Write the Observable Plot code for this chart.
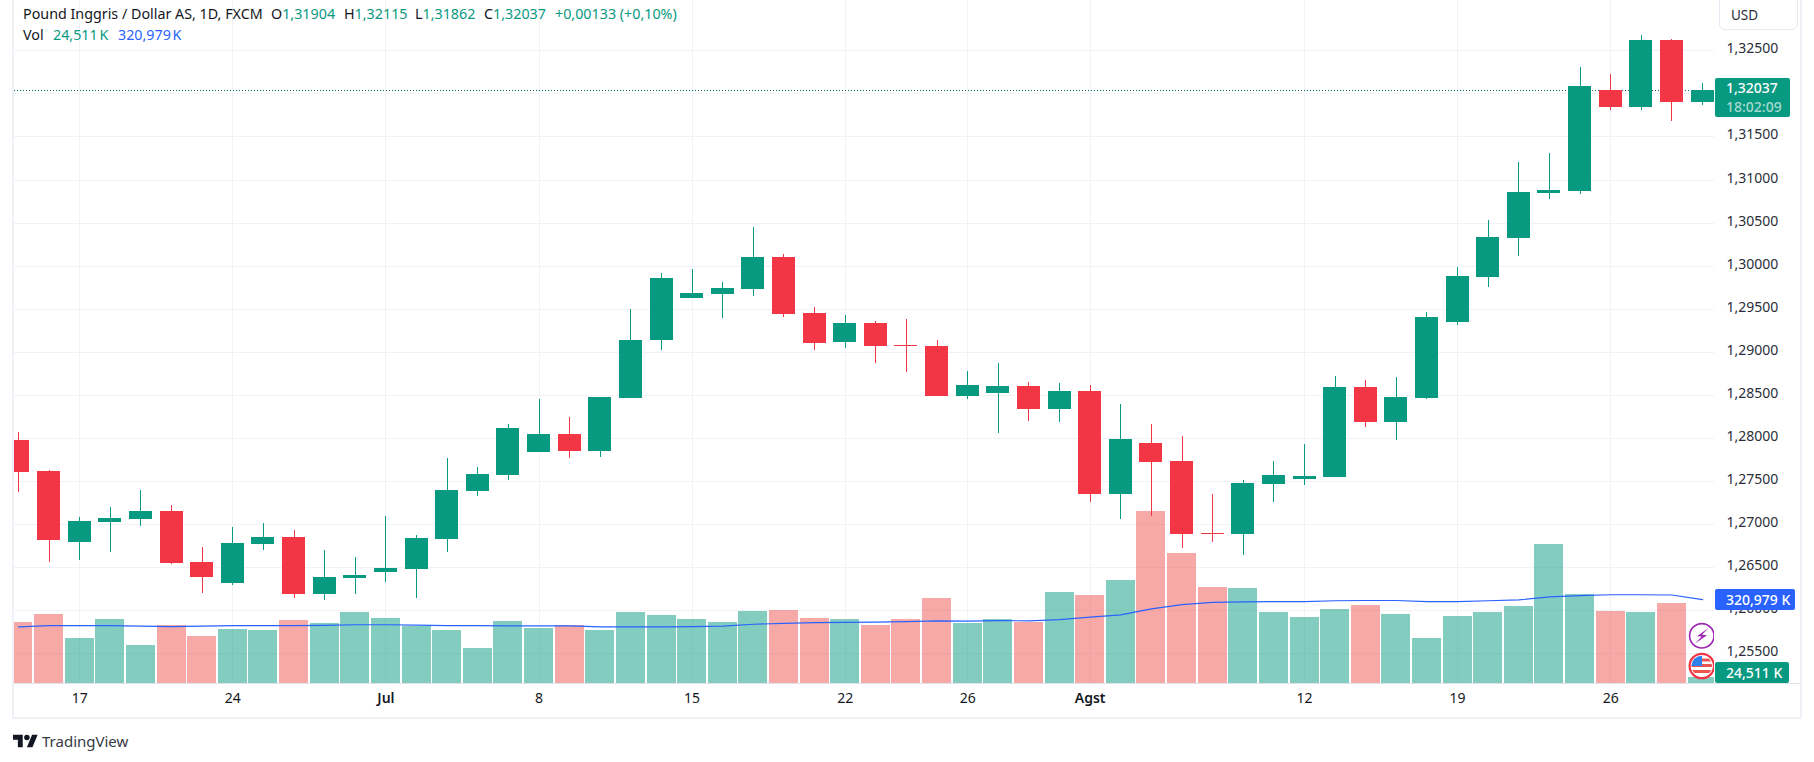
<!DOCTYPE html>
<html><head><meta charset="utf-8">
<script src="https://cdn.jsdelivr.net/npm/d3@7"></script>
<script src="https://cdn.jsdelivr.net/npm/@observablehq/plot@0.6"></script>
<style>
html,body{margin:0;padding:0;background:#fff}
#wrap{position:relative;width:1814px;height:762px;overflow:hidden;font-family:"Noto Sans",sans-serif;color:#131722}
#wrap svg{display:block}
.abs{position:absolute;white-space:nowrap}
.hdr{font-size:14.3px;line-height:18px}
.g{color:#089981}.b{color:#2962ff}
.tag{position:absolute;color:#fff;font-size:14px;font-weight:500;line-height:21px;border-radius:2px;padding-left:11px;box-sizing:border-box}
</style></head><body><div id="wrap"></div>
<script>
const opens=[1.27981,1.27620,1.26795,1.27027,1.27062,1.27155,1.26562,1.26318,1.26771,1.26853,1.26190,1.26376,1.26446,1.26481,1.26829,1.27388,1.27574,1.27841,1.28050,1.27853,1.28469,1.29132,1.29620,1.29667,1.29725,1.30097,1.29446,1.29120,1.29329,1.29074,1.29062,1.28492,1.28527,1.28609,1.28341,1.28550,1.27353,1.27946,1.27736,1.26899,1.26888,1.27469,1.27527,1.27550,1.28597,1.28190,1.28469,1.29341,1.29864,1.30318,1.30841,1.30864,1.32039,1.31841,1.32620,1.31904];
const highs=[1.28074,1.27632,1.27085,1.27202,1.27399,1.27225,1.26736,1.26969,1.27016,1.26934,1.26702,1.26620,1.27097,1.26876,1.27771,1.27667,1.28167,1.28457,1.28248,1.28481,1.29492,1.29911,1.29957,1.29806,1.30446,1.30132,1.29516,1.29422,1.29353,1.29376,1.29132,1.28783,1.28876,1.28655,1.28643,1.28620,1.28399,1.28167,1.28027,1.27353,1.27515,1.27736,1.27934,1.28725,1.28678,1.28713,1.29457,1.29981,1.30527,1.31202,1.31306,1.32306,1.32225,1.32678,1.32632,1.32115];
const lows=[1.27376,1.26562,1.26585,1.26678,1.26981,1.26539,1.26202,1.26295,1.26702,1.26143,1.26120,1.26190,1.26329,1.26143,1.26678,1.27329,1.27515,1.27841,1.27771,1.27783,1.28469,1.29016,1.29620,1.29388,1.29643,1.29399,1.29016,1.29050,1.28876,1.28771,1.28492,1.28457,1.28062,1.28202,1.28190,1.27260,1.27062,1.27097,1.26725,1.26795,1.26643,1.27260,1.27457,1.27550,1.28131,1.27981,1.28457,1.29306,1.29748,1.30109,1.30771,1.30829,1.31806,1.31806,1.31678,1.31862];
const closes=[1.27609,1.26818,1.27039,1.27074,1.27155,1.26550,1.26388,1.26783,1.26853,1.26190,1.26388,1.26411,1.26492,1.26841,1.27399,1.27585,1.28120,1.28050,1.27853,1.28481,1.29143,1.29853,1.29678,1.29736,1.30097,1.29434,1.29097,1.29329,1.29062,1.29062,1.28492,1.28620,1.28609,1.28341,1.28550,1.27353,1.27992,1.27725,1.26888,1.26888,1.27481,1.27574,1.27562,1.28597,1.28190,1.28481,1.29399,1.29876,1.30329,1.30853,1.30876,1.32085,1.31841,1.32620,1.31899,1.32037];
const volumes=[235,266,174,247,147,222,181,208,204,243,231,273,250,220,204,135,238,211,222,203,272,261,245,234,276,280,249,245,222,245,326,230,245,234,349,337,395,659,498,368,364,272,253,284,299,265,173,257,272,296,534,342,277,273,308,24.511];
const volumeMA=[217,222,222,222,220,218,220,222,222,222,223,225,225,224,222,222,221,221,221,217,217,217,218,220,227,230,233,234,235,237,240,239,241,240,245,254,263,286,302,311,313,314,314,317,318,318,314,314,317,320,332,337,340,340,339,320.979];
const gridPrices=[1.255,1.26,1.265,1.27,1.275,1.28,1.285,1.29,1.295,1.30,1.305,1.31,1.315,1.32,1.325];
const labelledPrices=[1.255,1.26,1.265,1.27,1.275,1.28,1.285,1.29,1.295,1.30,1.305,1.31,1.315,1.325];
const timeTickIdx=[2,7,17,22,27,31,42,47,52];
const timeTickLabels=["17","24","8","15","22","26","12","19","26"];
const monthTickIdx=[12,35];
const monthTickLabels=["Jul","Agst"];
const lastPrice=1.32037, lastVolume=24.511, lastMA=320.979;

const UP="#089981", DOWN="#f23645", VDOWN="#ef5350", GRID="#f1f2f6";
const priceBase=1.25156, priceTop=1.33084;
// secondary (volume) axis mapped linearly onto the price scale, K → price units
const volToPrice=d3.scaleLinear().domain([0,1]).range([priceBase,priceBase+3.03e-5]);

const candles=opens.map((o,i)=>({i,o,h:highs[i],l:lows[i],c:closes[i],v:volumes[i],ma:volumeMA[i],up:closes[i]>=o}));
const allTicks=[...timeTickIdx,...monthTickIdx];
const bodyHalf=.3755, barHalf=.4735;

const plot=Plot.plot({
  width:1814,height:762,marginLeft:14,marginRight:100,marginTop:0,marginBottom:79,
  style:{fontFamily:'"Noto Sans",sans-serif',fontSize:"14px",color:"#131722",background:"#fff"},
  x:{type:"linear",domain:[-0.1306,55.39],axis:null},
  y:{domain:[priceBase,priceTop],axis:null},
  marks:[
    Plot.ruleY(gridPrices,{stroke:GRID,strokeWidth:1,shapeRendering:"crispEdges"}),
    Plot.ruleX(allTicks,{stroke:GRID,strokeWidth:1,shapeRendering:"crispEdges"}),
    Plot.rectY(candles,{x1:d=>d.i-barHalf,x2:d=>d.i+barHalf,y1:priceBase,y2:d=>volToPrice(d.v),
      fill:d=>d.up?UP:VDOWN,fillOpacity:.5,clip:true,shapeRendering:"crispEdges"}),
    Plot.line(candles,{x:"i",y:d=>volToPrice(d.ma),stroke:"#2962ff",strokeWidth:1.2,clip:true}),
    Plot.ruleY([lastPrice],{stroke:"#056b5a",strokeWidth:1,strokeDasharray:"1,2",shapeRendering:"crispEdges"}),
    Plot.ruleX(candles,{x:"i",y1:"l",y2:"h",stroke:d=>d.up?UP:DOWN,strokeWidth:1,clip:true,shapeRendering:"crispEdges"}),
    Plot.rectY(candles,{x1:d=>d.i-bodyHalf,x2:d=>d.i+bodyHalf,y1:"o",y2:"c",fill:d=>d.up?UP:DOWN,clip:true,shapeRendering:"crispEdges"}),
    Plot.axisY({anchor:"right",ticks:labelledPrices,tickSize:0,tickPadding:12,label:null,textAnchor:"start",dy:-2,
      tickFormat:p=>p.toFixed(5).replace(".",","),fill:"#2a2e39"}),
    Plot.axisX({anchor:"bottom",ticks:timeTickIdx,tickSize:0,tickPadding:10,label:null,
      tickFormat:v=>timeTickLabels[timeTickIdx.indexOf(v)],fill:"#131722"}),
    Plot.axisX({anchor:"bottom",ticks:monthTickIdx,tickSize:0,tickPadding:10,label:null,fontWeight:600,
      tickFormat:v=>monthTickLabels[monthTickIdx.indexOf(v)],fill:"#131722"})
  ]
});
const wrap=document.getElementById("wrap");
wrap.appendChild(plot);
const y=plot.scale("y");

function add(html){const t=document.createElement("div");t.innerHTML=html;const e=t.firstElementChild;wrap.appendChild(e);return e;}

// chart frame and axis line
add('<div class="abs" style="left:12px;top:-4px;width:1790px;height:723px;box-sizing:border-box;border:2px solid #f0f1f7;pointer-events:none"></div>');
add('<div class="abs" style="left:14px;top:683px;width:1787px;height:1px;background:#e0e3eb"></div>');

// legend lines
const hdr=(x,top,html)=>add(`<div class="abs hdr" style="left:${x}px;top:${top}px">${html}</div>`);
hdr(23,5,'Pound Inggris / Dollar AS, 1D, FXCM');
hdr(271,5,'O<span class="g">1,31904</span>');
hdr(344,5,'H<span class="g">1,32115</span>');
hdr(415,5,'L<span class="g">1,31862</span>');
hdr(484,5,'C<span class="g">1,32037</span>');
hdr(555,5,'<span class="g">+0,00133 (+0,10%)</span>');
hdr(23,26,'Vol');
hdr(53,26,'<span class="g" style="word-spacing:-2px">24,511 K</span>');
hdr(118,26,'<span class="b" style="word-spacing:-2px">320,979 K</span>');

// currency button
add('<div class="abs" style="left:1719px;top:-6px;width:79px;height:36px;box-sizing:border-box;border:1.5px solid #e8eaf3;border-radius:6px;font-size:13.5px;padding:11px 0 0 11px;line-height:18px;color:#2a2e39">USD</div>');

// value tags, placed from the plot's own scale
const yLast=y.apply(lastPrice);
add(`<div class="tag" style="left:1715px;top:${yLast-12}px;width:75px;height:39px;background:${UP};line-height:19px"><div>1,32037</div><div style="color:rgba(255,255,255,.65)">18:02:09</div></div>`);
add(`<div class="tag" style="left:1715px;top:${y.apply(volToPrice(lastMA))-10.5}px;width:80px;height:21px;background:#2962ff">320,979 K</div>`);
add(`<div class="tag" style="left:1715px;top:${y.apply(priceBase)-21}px;width:74px;height:21px;background:${UP}">24,511 K</div>`);

// event icons
add(`<svg class="abs" style="left:1686px;top:620px" width="28" height="60" viewBox="0 0 28 60">
<circle cx="15.8" cy="15.8" r="12.2" fill="#fff" stroke="#9c27b0" stroke-width="1.6"/>
<path d="M22.5 8 L11 16.2 L15.8 16.6 L9 23.5 L21 15.2 L16 14.8 Z" fill="#9c27b0"/>
<clipPath id="fc"><circle cx="15.8" cy="46" r="10.3"/></clipPath>
<circle cx="15.8" cy="46" r="12.2" fill="#fff" stroke="#f23645" stroke-width="2.2"/>
<g clip-path="url(#fc)"><rect x="4" y="35" width="24" height="22" fill="#fff"/>
<rect x="4" y="38.5" width="24" height="3" fill="#ef5350"/><rect x="4" y="44" width="24" height="3" fill="#ef5350"/><rect x="4" y="50" width="24" height="3" fill="#ef5350"/>
<rect x="4" y="35" width="12" height="11" fill="#2f80ed"/></g></svg>`);

// logo
add(`<svg class="abs" style="left:13px;top:732px" width="25" height="16" viewBox="0 0 36 23"><path fill="#131722" d="M14 22H7V11H0V4h14v18zM28 22h-8l7.5-18h8L28 22z"/><circle cx="20" cy="8" r="4" fill="#131722"/></svg>`);
add('<div class="abs" style="left:42px;top:731px;font-size:15px;line-height:20px;color:#363a45">TradingView</div>');
</script></body></html>
